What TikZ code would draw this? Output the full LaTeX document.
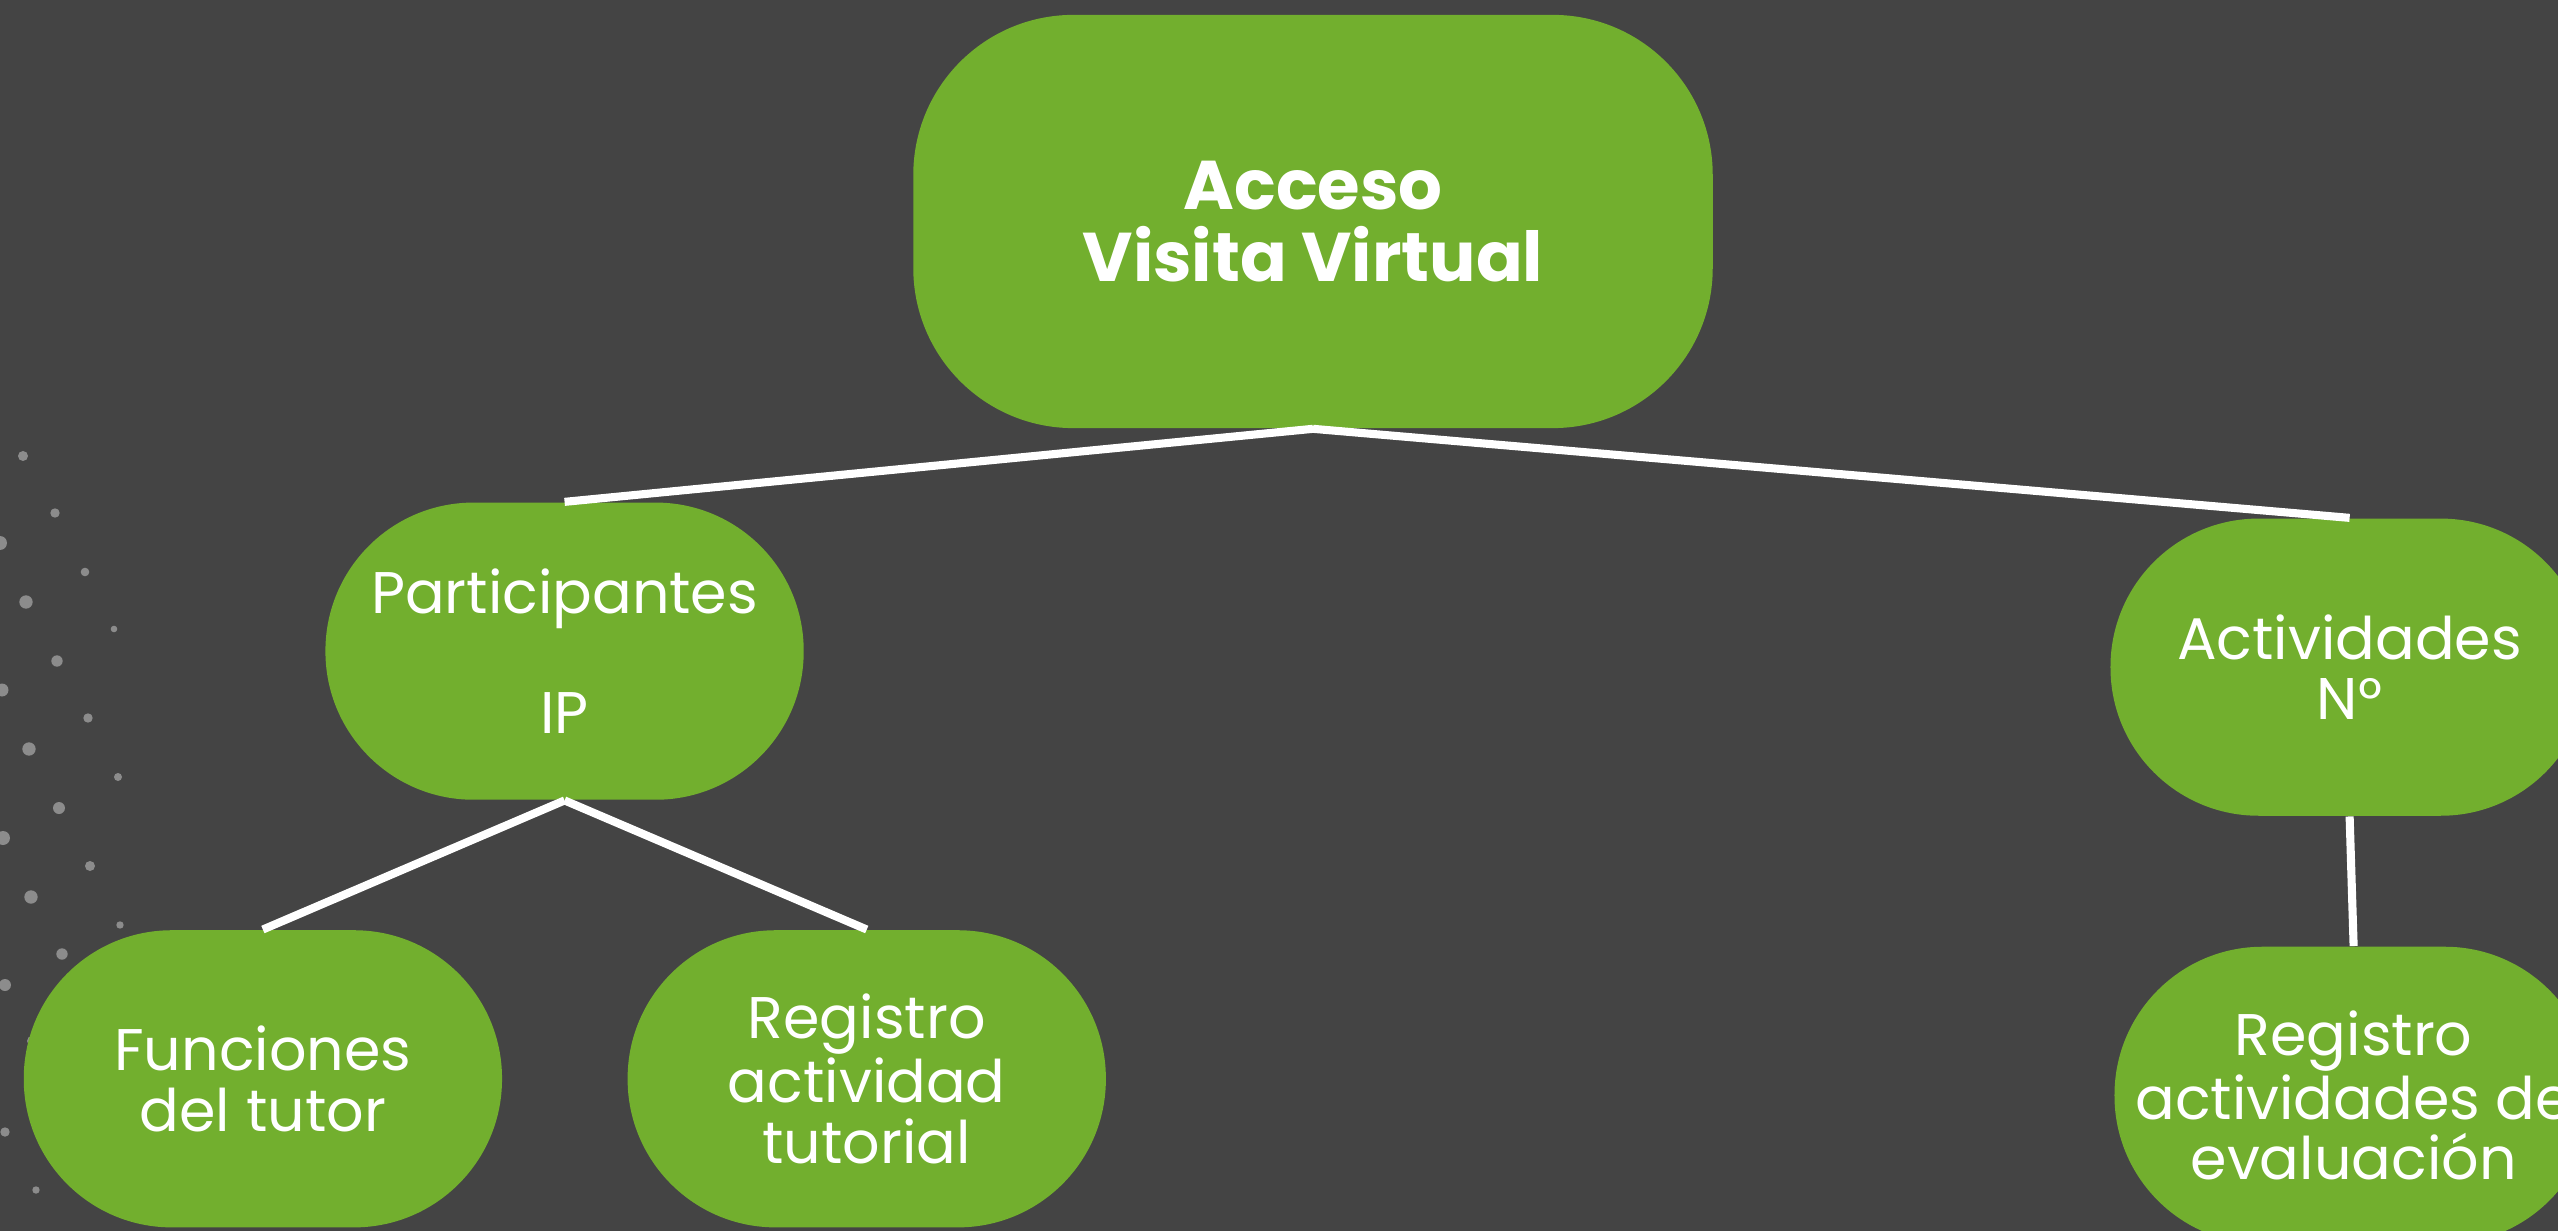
\documentclass[tikz,border=0pt]{standalone}
\usepackage{fontspec}
\setmainfont{Poppins}
\usepackage{xcolor}
\usepackage{tikz}
\usetikzlibrary{positioning}
\definecolor{bgdark}{RGB}{68,68,68}
\definecolor{leafgreen}{RGB}{114,175,46}
\definecolor{dotgray}{RGB}{140,140,140}

\begin{document}
\begin{tikzpicture}[
    x=0.01cm, y=-0.01cm,
    pill/.style={rectangle, fill=leafgreen, text=white, minimum width=4.78cm, minimum height=2.97cm, rounded corners=1.48cm, inner sep=0pt, align=center, font=\fontsize{16.7}{17.2}\selectfont},
    topbox/.style={rectangle, fill=leafgreen, text=white, minimum width=7.99cm, minimum height=4.13cm, rounded corners=1.6cm, inner sep=0pt, align=center, font=\bfseries\fontsize{19.6}{20.5}\selectfont},
    link/.style={draw=white, line width=2.3pt}
]
\fill[bgdark] (0,0) rectangle (2558,1231);
\useasboundingbox (0,0) rectangle (2558,1231);
\clip (0,0) rectangle (2558,1231);

% Decorative dots (left margin)
\foreach \dx/\dy/\dr in {23/456/5, 55/513/4.7, 85/572/4.3, 114/629/3.3,
    0/543/7, 26/602/6.7, 57/661/5.7, 88/718/4.7, 118/777/4,
    2/690/6.5, 29/749/6.7, 59/808/6, 90/866/5, 120/925/3.7,
    3/838/7, 31/897/6.7, 62/954/5.7,
    5/985/6, 32/1041/5,
    5/1132/4.7, 36/1190/3.7}
  \fill[dotgray] (\dx,\dy) circle[radius=\dr];

% Top node
\node[topbox] (acceso) at (1313,221.5) {Acceso\\Visita Virtual};

% Second row
\node[pill, below=0.73cm of acceso, xshift=-7.48cm] (participantes) {Participantes\\\mbox{}\\IP};
\node[pill, below=0.89cm of acceso, xshift=10.36cm] (actividades) {Actividades\\N°};

% Third row
\node[pill, below=1.29cm of participantes, xshift=-3.015cm] (funciones) {Funciones\\del tutor};
\node[pill, below=1.29cm of participantes, xshift=3.02cm] (tutorial) {Registro\\actividad\\tutorial};
\node[pill, below=1.295cm of actividades, xshift=0.04cm] (evaluacion) {Registro\\actividades de\\evaluación};

% Links
\draw[link] (acceso.south) -- (participantes.north);
\draw[link] (acceso.south) -- (actividades.north);
\draw[link] (participantes.south) -- (funciones.north);
\draw[link] (participantes.south) -- (tutorial.north);
\draw[link] (actividades.south) -- (evaluacion.north);

\end{tikzpicture}
\end{document}
